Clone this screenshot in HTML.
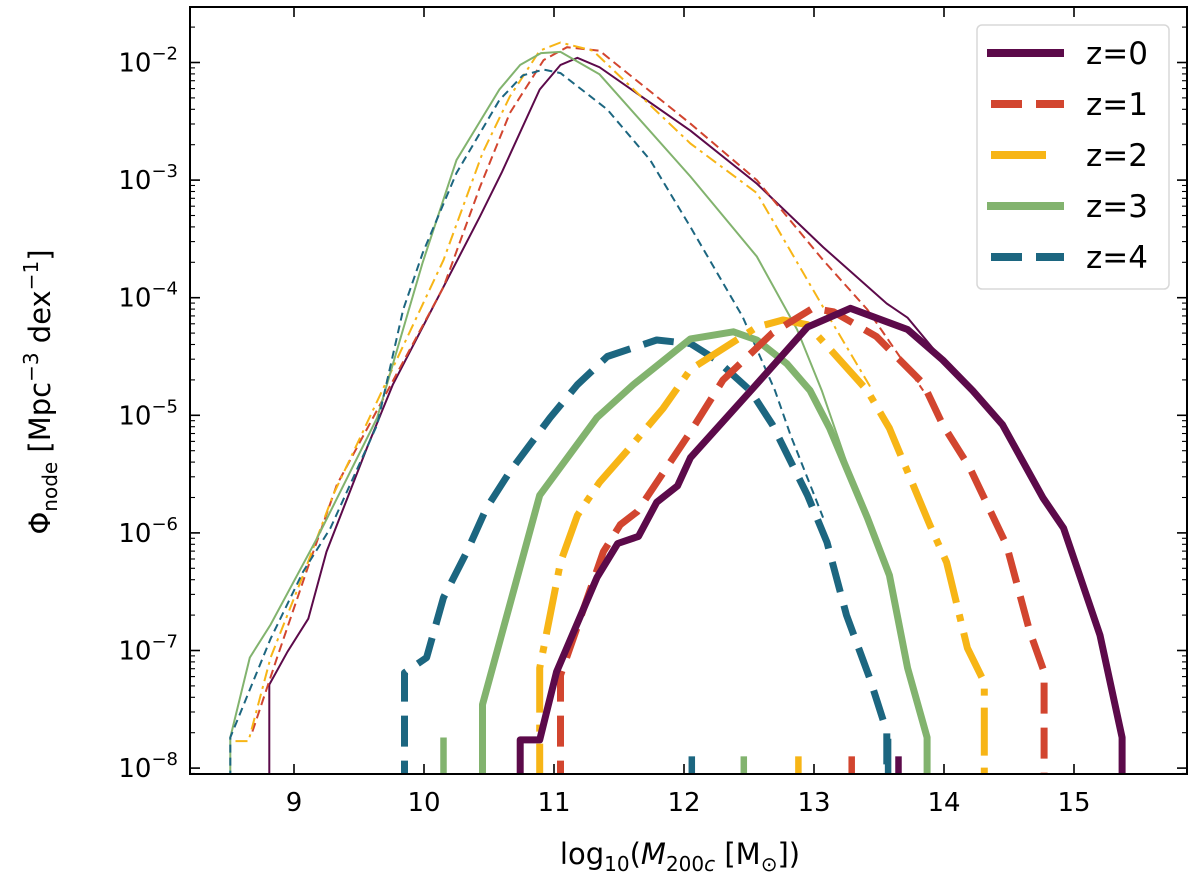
<!DOCTYPE html>
<html><head><meta charset="utf-8"><style>
body{margin:0;background:#fff}
svg{display:block;font-family:"DejaVu Sans","Liberation Sans",sans-serif}
</style></head><body>
<svg id="chart" width="1200" height="886" viewBox="0 0 1200 886" xmlns="http://www.w3.org/2000/svg">
<g id="marks"></g>
<g id="axes"></g>
<g id="legend"></g>
</svg>
<script>
const xTicks=[9,10,11,12,13,14,15];
const yExps=[-2,-3,-4,-5,-6,-7,-8];
const seriesNames=["z=0","z=1","z=2","z=3","z=4"];
const colors=["#5c0a4a","#d2452f","#f7b516","#82b36e","#1c6680"];
// thick curves [log10 M, log10 phi]
const thick0=[[10.74,-8.2],[10.74,-7.76],[10.89,-7.76],[11.02,-7.18],[11.33,-6.38],[11.49,-6.09],[11.65,-6.03],[11.79,-5.74],[11.95,-5.6],[12.05,-5.36],[12.53,-4.77],[12.95,-4.25],[13.28,-4.09],[13.72,-4.27],[13.99,-4.53],[14.22,-4.79],[14.45,-5.08],[14.76,-5.7],[14.92,-5.96],[15.2,-6.87],[15.37,-7.74],[15.37,-8.2]];
const thick1=[[11.05,-8.2],[11.05,-7.21],[11.38,-6.16],[11.51,-5.93],[11.64,-5.82],[12.05,-5.14],[12.3,-4.7],[12.68,-4.3],[12.99,-4.09],[13.15,-4.12],[13.48,-4.33],[13.84,-4.73],[13.99,-5.08],[14.2,-5.45],[14.48,-6.1],[14.66,-6.84],[14.77,-7.18],[14.77,-8.2]];
const thick2=[[10.89,-8.2],[10.89,-7.15],[11.05,-6.25],[11.18,-5.85],[11.35,-5.57],[11.58,-5.28],[11.84,-4.94],[12.05,-4.61],[12.56,-4.25],[12.76,-4.19],[12.95,-4.23],[13.15,-4.47],[13.41,-4.79],[13.58,-5.11],[13.89,-5.93],[14.02,-6.25],[14.18,-6.98],[14.31,-7.27],[14.31,-8.2]];
const thick3=[[10.45,-8.2],[10.45,-7.46],[10.89,-5.68],[11.33,-5.02],[11.61,-4.74],[12.05,-4.35],[12.38,-4.29],[12.56,-4.36],[12.79,-4.56],[12.97,-4.79],[13.12,-5.11],[13.41,-5.87],[13.58,-6.36],[13.72,-7.15],[13.87,-7.74],[13.87,-8.2]];
const thick4=[[9.85,-8.2],[9.85,-7.19],[10.02,-7.06],[10.15,-6.55],[10.33,-6.16],[10.48,-5.79],[10.66,-5.48],[10.97,-5.02],[11.18,-4.74],[11.41,-4.5],[11.79,-4.36],[12.05,-4.39],[12.25,-4.53],[12.51,-4.79],[12.68,-5.08],[12.95,-5.68],[13.1,-6.08],[13.25,-6.7],[13.43,-7.24],[13.56,-7.69],[13.56,-8.2]];
// thin curves [log10 M, log10 phi]
const thin0=[[8.81,-8.2],[8.81,-7.29],[8.95,-7.01],[9.11,-6.73],[9.25,-6.16],[9.56,-5.28],[9.76,-4.74],[10.43,-3.31],[10.6,-2.93],[10.89,-2.23],[11.05,-2.02],[11.18,-1.96],[11.35,-2.04],[12.05,-2.58],[12.56,-3.03],[13.07,-3.57],[13.56,-4.05],[13.72,-4.17],[13.99,-4.53]];
const thin1=[[8.68,-7.69],[8.87,-7.06],[9.12,-6.25],[9.33,-5.59],[10.15,-3.91],[10.43,-3.06],[10.66,-2.43],[10.92,-1.98],[11.1,-1.87],[11.35,-1.9],[12.05,-2.52],[12.56,-3.0],[13.07,-3.68],[13.41,-4.1],[13.84,-4.79]];
const thin2=[[8.55,-7.77],[8.65,-7.77],[8.82,-7.06],[9.07,-6.36],[9.3,-5.68],[10.15,-3.68],[10.45,-2.77],[10.66,-2.29],[10.89,-1.9],[11.05,-1.83],[11.3,-1.9],[12.05,-2.69],[12.56,-3.11],[13.07,-4.08],[13.45,-4.79]];
const thin3=[[8.51,-8.2],[8.51,-7.74],[8.66,-7.06],[8.82,-6.78],[9.18,-6.04],[9.64,-5.02],[9.99,-3.7],[10.25,-2.83],[10.58,-2.23],[10.74,-2.02],[10.9,-1.92],[11.05,-1.91],[11.35,-2.1],[12.05,-2.97],[12.56,-3.65],[12.87,-4.27],[13.06,-4.79],[13.25,-5.4]];
const thin4=[[8.51,-8.2],[8.51,-7.74],[8.82,-6.9],[9.07,-6.33],[9.28,-5.96],[9.64,-5.08],[9.84,-4.1],[9.99,-3.62],[10.25,-2.94],[10.58,-2.32],[10.76,-2.11],[10.92,-2.06],[11.05,-2.09],[11.41,-2.4],[11.74,-2.83],[12.05,-3.4],[12.45,-4.16],[12.7,-4.79],[12.82,-5.17],[13.07,-5.87]];
// isolated single-bin spikes [series, log10 M, log10 phi]
const spikes=[[4,12.06,-7.9],[3,12.46,-7.9],[3,10.15,-7.74],[2,12.88,-7.9],[1,13.29,-7.9],[0,13.65,-7.9],[4,13.57,-7.75]];

const L=190,R=1187,T=7,B=774;
const sx=v=>294+(v-9)*130;
const sy=lv=>62.5-(lv+2)*117.6;
const NS="http://www.w3.org/2000/svg";
function mk(tag,parent,attrs){const e=document.createElementNS(NS,tag);for(const k in attrs)e.setAttribute(k,attrs[k]);parent.appendChild(e);return e;}
const svg=document.getElementById('chart');
const marks=document.getElementById('marks'),axes=document.getElementById('axes'),leg=document.getElementById('legend');
const cp=mk('clipPath',svg,{id:'clip'});
mk('rect',cp,{x:L,y:T,width:R-L,height:B-T});
marks.setAttribute('clip-path','url(#clip)');
const thinDash=[null,"9,5","12,5,3,5",null,"8,5"];
const thickDash=[null,"31,14","48,12,7,12",null,"31,14"];
const thins=[thin0,thin1,thin2,thin3,thin4],thicks=[thick0,thick1,thick2,thick3,thick4];
const pstr=a=>a.map(p=>sx(p[0]).toFixed(1)+','+sy(p[1]).toFixed(1)).join(' ');
for(let i=0;i<5;i++){
 const t=mk('polyline',marks,{points:pstr(thins[i]),fill:'none',stroke:colors[i],'stroke-width':2});
 if(thinDash[i])t.setAttribute('stroke-dasharray',thinDash[i]);
 
 
}
for(let i=4;i>=0;i--){
 const t=mk('polyline',marks,{points:pstr(thicks[i]),fill:'none',stroke:colors[i],'stroke-width':7,'stroke-linejoin':'round'});
 if(thickDash[i])t.setAttribute('stroke-dasharray',thickDash[i]);
 
 
}
spikes.forEach(s=>{
 const e=mk('line',marks,{x1:sx(s[1]),x2:sx(s[1]),y1:B+5,y2:sy(s[2]),stroke:colors[s[0]],'stroke-width':6.5});
 
 
});
const fr=mk('rect',axes,{x:L,y:T,width:R-L,height:B-T,fill:'none',stroke:'#000','stroke-width':2});


xTicks.forEach(v=>{
 const x=sx(v);
 mk('line',axes,{x1:x,x2:x,y1:B,y2:B-10,stroke:'#000','stroke-width':1.6});
 mk('line',axes,{x1:x,x2:x,y1:T,y2:T+10,stroke:'#000','stroke-width':1.6});
 const t=mk('text',axes,{x:x,y:B+37,'text-anchor':'middle','font-size':26});
 t.textContent=v;
 
 
});
for(let e=-9;e<=-1;e++){for(let m=1;m<10;m++){const y=sy(e+Math.log10(m));if(y<T||y>B)continue;const len=m===1?10:5;
 mk('line',axes,{x1:L,x2:L+len,y1:y,y2:y,stroke:'#000','stroke-width':m===1?1.6:1.1});
 mk('line',axes,{x1:R,x2:R-len,y1:y,y2:y,stroke:'#000','stroke-width':m===1?1.6:1.1});}}
yExps.forEach(e=>{
 const y=sy(e);
 const t=mk('text',axes,{x:178,y:y+9,'text-anchor':'end','font-size':26});
 t.innerHTML='10<tspan dy="-12" font-size="18">\u2212'+(-e)+'</tspan>';
 
 
});
const xt=mk('text',axes,{x:680,y:864,'text-anchor':'middle','font-size':29});
xt.innerHTML='log<tspan font-size="20" dy="7">10</tspan><tspan dy="-7">(</tspan><tspan font-style="italic">M</tspan><tspan font-size="20" dy="7">200<tspan font-style="italic">c</tspan></tspan><tspan dy="-7"> [M</tspan><tspan font-size="20" dy="7">\u2299</tspan><tspan dy="-7">])</tspan>';


const yt=mk('text',axes,{x:0,y:0,'text-anchor':'middle','font-size':29,transform:'translate(50,392) rotate(-90)'});
yt.innerHTML='\u03A6<tspan font-size="20" dy="7">node</tspan><tspan dy="-7"> [Mpc</tspan><tspan font-size="20" dy="-12">\u22123</tspan><tspan dy="12"> dex</tspan><tspan font-size="20" dy="-12">\u22121</tspan><tspan dy="12">]</tspan>';


const lb=mk('rect',leg,{x:977,y:25,width:192,height:264,rx:5,fill:'#fff',stroke:'#d8d8d8','stroke-width':1.5});


const legDash=[null,"31,14",null,null,"31,14"];
seriesNames.forEach((n,i)=>{
 const y=53+i*51;
 const g=mk('g',leg,{});
 
 
 const x2=i===2?1046:1064;
 const l=mk('line',g,{x1:i===1||i===4||i===2?991:987,x2:x2,y1:y,y2:y,stroke:colors[i],'stroke-width':8});
 if(legDash[i])l.setAttribute('stroke-dasharray',legDash[i]);
 const t=mk('text',g,{x:1086,y:y+11,'font-size':31});
 t.textContent=n;
});
</script>
</body></html>
